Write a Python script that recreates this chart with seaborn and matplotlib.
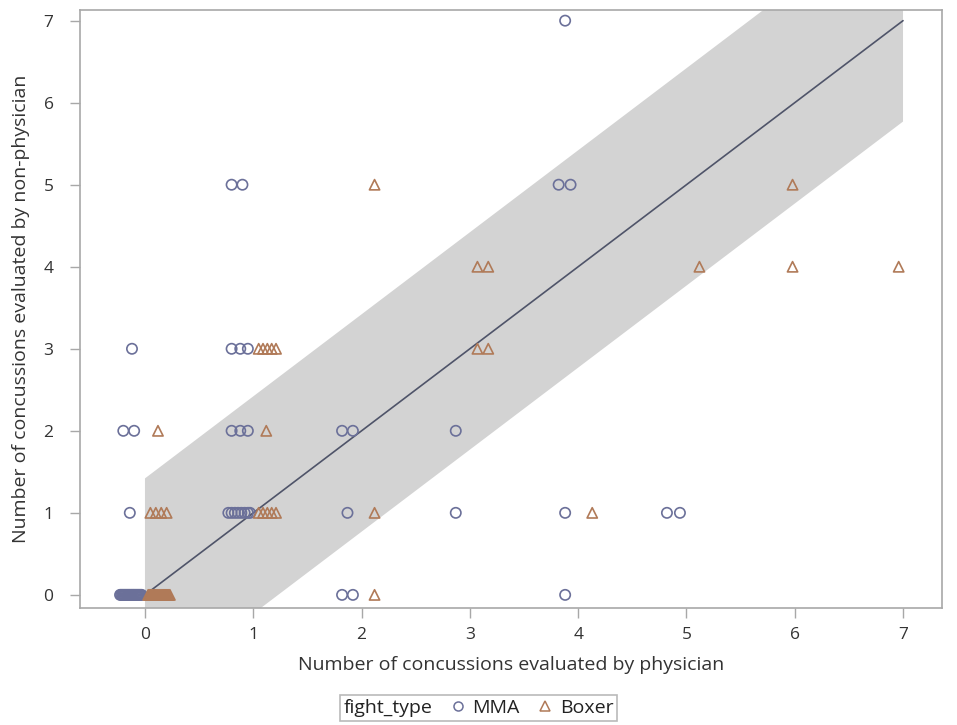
import matplotlib
matplotlib.use("Agg")
import matplotlib.pyplot as plt
from matplotlib.lines import Line2D
import seaborn as sns
import pandas as pd

# ---- data (x positions include the visual jitter) ----
mma_x = [-0.23, -0.22, -0.21, -0.20, -0.19, -0.18, -0.17, -0.16, -0.15, -0.14, -0.13,
         -0.12, -0.11, -0.10, -0.09, -0.08, -0.07, -0.06, -0.05, -0.04, -0.03,
         1.82, 1.92, 3.88,
         -0.14, 0.77, 0.80, 0.83, 0.86, 0.89, 0.92, 0.95, 0.97, 1.87, 2.87, 3.88, 4.82, 4.94,
         -0.20, -0.10, 0.80, 0.88, 0.95, 1.82, 1.92, 2.87,
         -0.12, 0.80, 0.88, 0.95,
         0.80, 0.90, 3.82, 3.93,
         3.88]
mma_y = [0] * 24 + [1] * 14 + [2] * 8 + [3] * 4 + [5] * 4 + [7]

boxer_x = [0.03, 0.04, 0.05, 0.06, 0.07, 0.08, 0.09, 0.10, 0.11, 0.12, 0.13,
           0.14, 0.15, 0.16, 0.17, 0.18, 0.19, 0.20, 0.21, 0.22, 0.23,
           2.12,
           0.05, 0.10, 0.15, 0.20, 1.05, 1.09, 1.13, 1.17, 1.21, 2.12, 4.13,
           0.12, 1.12,
           1.05, 1.09, 1.13, 1.17, 1.21, 3.07, 3.17,
           3.07, 3.17, 5.12, 5.98, 6.96,
           2.12, 5.98]
boxer_y = [0] * 22 + [1] * 11 + [2] * 2 + [3] * 7 + [4] * 5 + [5] * 2

fight_types = ["MMA", "Boxer"]
fit_x = [0, 7]
fit_y = [0, 7]
band_lo = [-1.23, 5.77]
band_hi = [1.42, 8.42]

x_ticks = [0, 1, 2, 3, 4, 5, 6, 7]
y_ticks = [0, 1, 2, 3, 4, 5, 6, 7]

df = pd.DataFrame({
    "x": mma_x + boxer_x,
    "y": mma_y + boxer_y,
    "fight_type": ["MMA"] * len(mma_x) + ["Boxer"] * len(boxer_x),
})

# ---- styling ----
sns.set_theme(style="white")
plt.rcParams["font.family"] = ["Open Sans", "DejaVu Sans"]

colors = {"MMA": "#6b7099", "Boxer": "#b07a58"}
markers = {"MMA": "o", "Boxer": "^"}
axis_gray = "#a8a8a8"

fig = plt.figure(figsize=(9.57, 7.25), dpi=100)
ax = fig.add_axes([80 / 957, 1 - 608 / 725, (942 - 80) / 957, (608 - 10) / 725])

ax.fill_between(fit_x, band_lo, band_hi, color="#d3d3d3", lw=0, zorder=1)
ax.plot(fit_x, fit_y, color="#4f5469", lw=1.2, zorder=2)

sns.scatterplot(data=df, x="x", y="y", hue="fight_type", style="fight_type",
                hue_order=fight_types, style_order=fight_types,
                palette=colors, markers=markers, s=55, linewidth=1.2,
                legend=False, ax=ax, zorder=3)
for coll in ax.collections:
    if coll.get_offsets().shape[0] > 2:
        fc = coll.get_facecolors()
        coll.set_edgecolors(fc)
        coll.set_facecolors("none")
        coll.set_linewidth(1.2)

ax.set_xlim(-0.6, 7.36)
ax.set_ylim(-0.16, 7.13)
ax.set_xticks(x_ticks)
ax.set_yticks(y_ticks)
ax.tick_params(axis="both", direction="out", length=7, width=1, color=axis_gray,
               labelsize=12.5, labelcolor="#333333", bottom=True, left=True)
ax.tick_params(axis="y", pad=12)
ax.tick_params(axis="x", pad=7)
for sp in ax.spines.values():
    sp.set_color(axis_gray)
    sp.set_linewidth(1.2)
    sp.set_visible(True)

ax.set_xlabel("Number of concussions evaluated by physician", fontsize=14,
              color="#333333", labelpad=9)
ax.set_ylabel("Number of concussions evaluated by non-physician", fontsize=14,
              color="#333333", labelpad=10)

handles = [Line2D([], [], linestyle="none", marker=None)]
labels = ["fight_type"]
for ft in fight_types:
    handles.append(Line2D([], [], linestyle="none", marker=markers[ft],
                          markerfacecolor="none", markeredgecolor=colors[ft],
                          markersize=6.5, markeredgewidth=1.1))
    labels.append(ft)
leg = fig.legend(handles, labels, ncol=3, loc="lower center",
                 bbox_to_anchor=(0.5, 0.003), frameon=True, fancybox=False,
                 fontsize=14, handlelength=0.8, handletextpad=0.35,
                 columnspacing=0.9, borderpad=0.2, borderaxespad=0.1,
                 edgecolor=axis_gray)
leg.get_frame().set_linewidth(1.2)
for t in leg.get_texts():
    t.set_color("#222222")
# remove the empty handle slot in front of the inline title "fight_type"
try:
    col0 = leg._legend_handle_box.get_children()[0]
    row0 = col0.get_children()[0]
    row0.sep = 0
    row0.get_children()[0].width = 0
except Exception:
    pass

fig.savefig("out.png", dpi=100)
